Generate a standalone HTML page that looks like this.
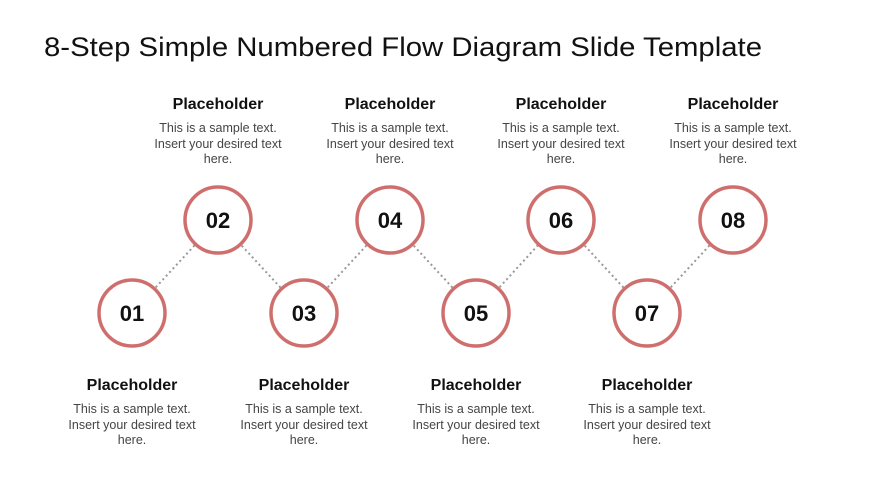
<!DOCTYPE html>
<html><head><meta charset="utf-8"><style>
html,body{margin:0;padding:0;background:#fff;}
svg{display:block;font-family:"Liberation Sans",sans-serif;}
.h{font-weight:bold;font-size:16px;fill:#111;text-anchor:middle;}
.t{font-size:12.5px;fill:#444;text-anchor:middle;}
.n{font-weight:bold;font-size:22px;fill:#111;text-anchor:middle;}
</style></head><body>
<svg width="870" height="489" viewBox="0 0 870 489">
<text x="44" y="56" font-size="27" fill="#111" textLength="718" lengthAdjust="spacingAndGlyphs">8-Step Simple Numbered Flow Diagram Slide Template</text>
<g stroke="#999" stroke-width="2" stroke-dasharray="2,3">
<line x1="132" y1="313" x2="218" y2="220"/>
<line x1="218" y1="220" x2="304" y2="313"/>
<line x1="304" y1="313" x2="390" y2="220"/>
<line x1="390" y1="220" x2="476" y2="313"/>
<line x1="476" y1="313" x2="561" y2="220"/>
<line x1="561" y1="220" x2="647" y2="313"/>
<line x1="647" y1="313" x2="733" y2="220"/>
</g>
<g fill="#fff" stroke="#cf6f6d" stroke-width="3.5">
<circle cx="132" cy="313" r="33"/><circle cx="218" cy="220" r="33"/>
<circle cx="304" cy="313" r="33"/><circle cx="390" cy="220" r="33"/>
<circle cx="476" cy="313" r="33"/><circle cx="561" cy="220" r="33"/>
<circle cx="647" cy="313" r="33"/><circle cx="733" cy="220" r="33"/>
</g>
<text class="n" x="132" y="321">01</text><text class="n" x="218" y="228">02</text>
<text class="n" x="304" y="321">03</text><text class="n" x="390" y="228">04</text>
<text class="n" x="476" y="321">05</text><text class="n" x="561" y="228">06</text>
<text class="n" x="647" y="321">07</text><text class="n" x="733" y="228">08</text>
<g>
<text class="h" x="218" y="109">Placeholder</text><text class="t" x="218" y="132">This is a sample text.</text><text class="t" x="218" y="148">Insert your desired text</text><text class="t" x="218" y="163">here.</text>
<text class="h" x="390" y="109">Placeholder</text><text class="t" x="390" y="132">This is a sample text.</text><text class="t" x="390" y="148">Insert your desired text</text><text class="t" x="390" y="163">here.</text>
<text class="h" x="561" y="109">Placeholder</text><text class="t" x="561" y="132">This is a sample text.</text><text class="t" x="561" y="148">Insert your desired text</text><text class="t" x="561" y="163">here.</text>
<text class="h" x="733" y="109">Placeholder</text><text class="t" x="733" y="132">This is a sample text.</text><text class="t" x="733" y="148">Insert your desired text</text><text class="t" x="733" y="163">here.</text>
<text class="h" x="132" y="390">Placeholder</text><text class="t" x="132" y="413">This is a sample text.</text><text class="t" x="132" y="429">Insert your desired text</text><text class="t" x="132" y="444">here.</text>
<text class="h" x="304" y="390">Placeholder</text><text class="t" x="304" y="413">This is a sample text.</text><text class="t" x="304" y="429">Insert your desired text</text><text class="t" x="304" y="444">here.</text>
<text class="h" x="476" y="390">Placeholder</text><text class="t" x="476" y="413">This is a sample text.</text><text class="t" x="476" y="429">Insert your desired text</text><text class="t" x="476" y="444">here.</text>
<text class="h" x="647" y="390">Placeholder</text><text class="t" x="647" y="413">This is a sample text.</text><text class="t" x="647" y="429">Insert your desired text</text><text class="t" x="647" y="444">here.</text>
</g>
</svg>
</body></html>
